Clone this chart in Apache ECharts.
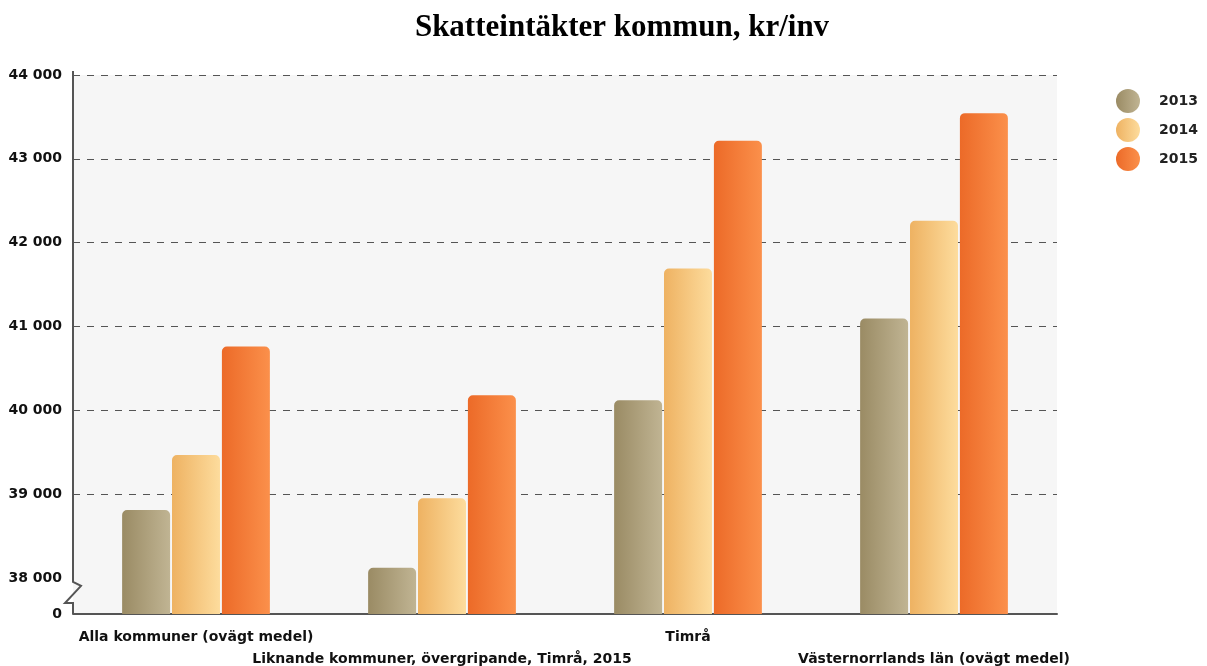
<!DOCTYPE html>
<html>
<head>
<meta charset="utf-8">
<script src="https://cdn.jsdelivr.net/npm/echarts@6/dist/echarts.min.js"></script>
<style>
  html, body { margin: 0; padding: 0; background: #fff; }
  #chart { width: 1207px; height: 666px; }
</style>
</head>
<body>
<div id="chart"></div>
<script>
  const categories = [
    'Alla kommuner (ovägt medel)',
    'Liknande kommuner, övergripande, Timrå, 2015',
    'Timrå',
    'Västernorrlands län (ovägt medel)'
  ];
  const years = ['2013', '2014', '2015'];
  const values2013 = [38810, 38120, 40120, 41095];
  const values2014 = [39465, 38950, 41690, 42260];
  const values2015 = [40760, 40180, 43215, 43545];
  const yTicks = [0, 38000, 39000, 40000, 41000, 42000, 43000, 44000];

  // dark side -> light side of each bar
  const colors = [
    ['#9a8b64', '#c0b493'],
    ['#eeb262', '#fddc9d'],
    ['#ec6a28', '#fb904b']
  ];

  function grad(c) {
    return new echarts.graphic.LinearGradient(0, 0, 1, 0, [
      { offset: 0, color: c[0] },
      { offset: 1, color: c[1] }
    ]);
  }

  function fmt(v) {
    return String(v).replace(/\B(?=(\d{3})+(?!\d))/g, ' ');
  }

  const chart = echarts.init(document.getElementById('chart'));
  const allValues = [values2013, values2014, values2015];

  const option = {
    backgroundColor: '#fff',
    title: {
      text: 'Skatteintäkter kommun, kr/inv',
      left: 617,
      textAlign: 'center',
      top: 7,
      textStyle: {
        fontFamily: 'Liberation Serif',
        fontWeight: 'bold',
        fontSize: 31,
        color: '#000'
      }
    },
    legend: {
      orient: 'vertical',
      left: 1111,
      top: 84,
      icon: 'circle',
      itemWidth: 24,
      itemHeight: 24,
      itemGap: 5,
      data: years,
      textStyle: {
        fontFamily: 'DejaVu Sans',
        fontWeight: 'bold',
        fontSize: 14,
        color: '#222',
        padding: [0, 0, 0, 14]
      }
    },
    grid: {
      left: 73,
      right: 150,
      top: 75,
      bottom: 52,
      outerBoundsMode: 'none',
      show: true,
      backgroundColor: '#f6f6f6',
      borderWidth: 0
    },
    xAxis: {
      type: 'category',
      data: categories,
      axisLine: { lineStyle: { color: '#555', width: 2 } },
      axisTick: { alignWithLabel: true, length: 5, lineStyle: { color: '#555' } },
      axisLabel: {
        interval: 0,
        margin: 12,
        lineHeight: 22,
        color: '#111',
        fontFamily: 'DejaVu Sans',
        fontWeight: 'bold',
        fontSize: 14,
        formatter: (v, i) => (i % 2 === 1 ? '\n' + v : v)
      }
    },
    yAxis: {
      type: 'value',
      min: 0,
      max: 44000,
      interval: 1000,
      breaks: [{ start: 0, end: 38000, gap: '6.7%' }],
      breakArea: { show: false },
      axisLine: { show: false },
      axisTick: { show: false },
      axisLabel: {
        margin: 11,
        color: '#111',
        fontFamily: 'DejaVu Sans',
        fontWeight: 'bold',
        fontSize: 14,
        formatter: v => (yTicks.indexOf(v) >= 0 ? fmt(v) : '')
      },
      splitLine: {
        show: true,
        lineStyle: { color: '#555', type: [7, 7], width: 1 }
      }
    },
    series: years.map((y, i) => ({
      name: y,
      type: 'bar',
      data: allValues[i],
      barWidth: '19.5%',
      barGap: '4%',
      itemStyle: {
        color: grad(colors[i]),
        borderRadius: [5, 5, 0, 0]
      }
    }))
  };

  chart.setOption(option);

  // y axis line with zigzag break marker between 0 and 38 000
  const x0 = chart.convertToPixel({ xAxisIndex: 0 }, 0) - 123;
  const yTop = chart.convertToPixel({ yAxisIndex: 0 }, 44000) - 4;
  const yBrk = chart.convertToPixel({ yAxisIndex: 0 }, 38000);
  const yZero = chart.convertToPixel({ yAxisIndex: 0 }, 0);
  chart.setOption({
    graphic: [{
      type: 'polyline',
      z: 100,
      shape: {
        points: [
          [x0, yTop], [x0, yBrk + 4], [x0 + 8, yBrk + 8],
          [x0 - 8, yZero - 11], [x0, yZero - 11], [x0, yZero]
        ]
      },
      style: { stroke: '#555', lineWidth: 2, fill: null }
    }]
  });
</script>
</body>
</html>
